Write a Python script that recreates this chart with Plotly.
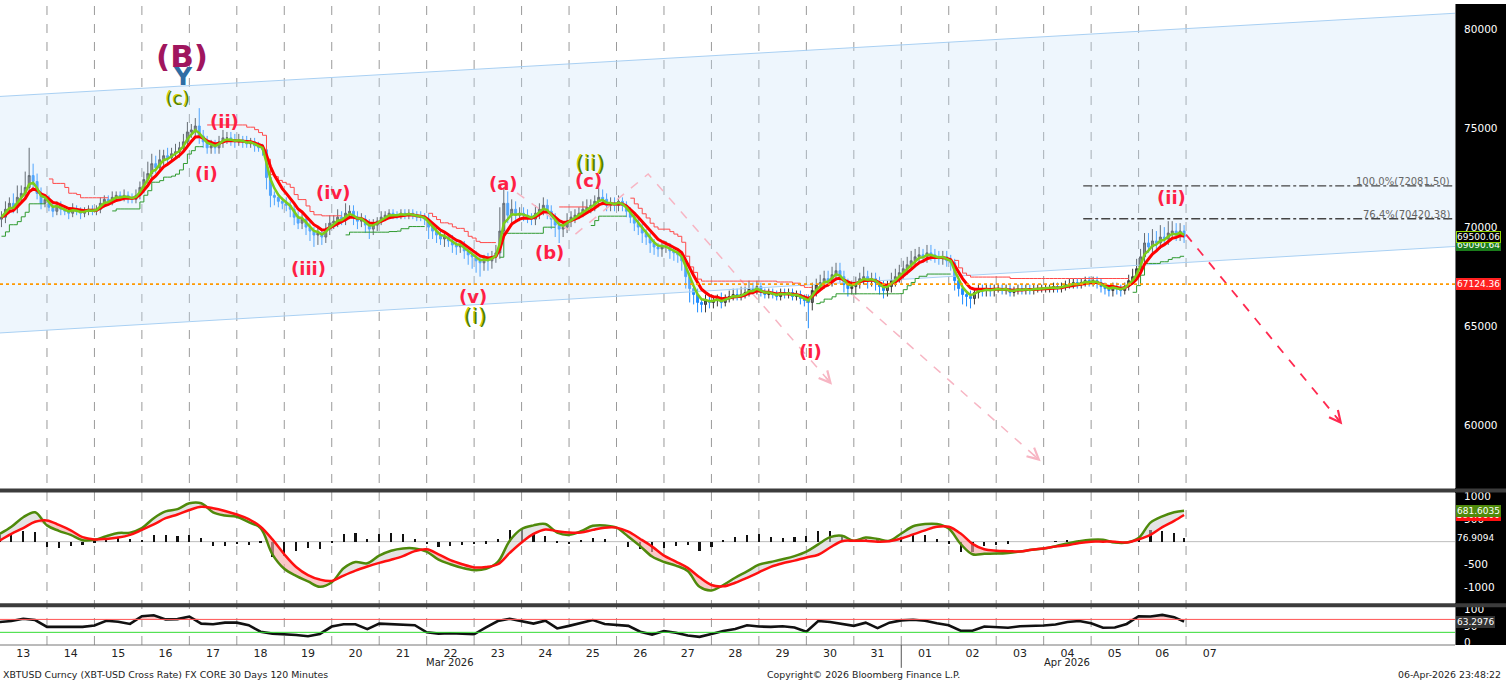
import numpy as np
import pandas as pd
import plotly.graph_objects as go

# ---------------- price data: 2-hour bars, values in thousands of USD ----------------
bar_start = "2026-03-13 01:00"
first_open_k = 70.4
close_k = [
    70.5, 70.9, 71.2, 71.0, 71.5, 71.7, 72.0, 72.6, 72.3, 71.7, 71.2, 71.4,   # Mar 13
    71.0, 70.8, 71.1, 70.9, 70.8, 70.7, 70.9, 70.8, 70.7, 70.8, 70.9, 70.8,   # Mar 14
    70.9, 71.2, 71.4, 71.3, 71.5, 71.6, 71.5, 71.6, 71.5, 71.4, 71.6, 72.0,   # Mar 15
    72.4, 72.7, 73.2, 73.0, 73.4, 73.6, 73.5, 73.7, 73.8, 74.0, 74.3, 74.8,   # Mar 16
    74.9, 75.1, 74.6, 74.3, 74.0, 74.1, 74.0, 74.3, 74.5, 74.5, 74.4, 74.3,   # Mar 17
    74.4, 74.3, 74.2, 74.3, 74.1, 74.0, 73.9, 72.5, 71.6, 71.5, 71.3, 71.2,   # Mar 18
    71.1, 70.9, 70.5, 70.2, 70.4, 70.0, 69.8, 69.6, 69.7, 69.5, 69.9, 70.2,   # Mar 19
    70.3, 70.5, 70.4, 70.7, 70.8, 70.5, 70.3, 70.4, 70.1, 69.9, 70.1, 70.3,   # Mar 20
    70.5, 70.6, 70.7, 70.6, 70.6, 70.7, 70.6, 70.7, 70.6, 70.5, 70.5, 70.4,   # Mar 21
    70.0, 69.8, 69.6, 69.4, 69.5, 69.3, 69.1, 69.0, 69.1, 68.8, 68.6, 68.5,   # Mar 22
    68.3, 68.2, 68.4, 68.3, 68.5, 68.7, 69.8, 71.2, 70.6, 70.9, 70.6, 70.7,   # Mar 23
    70.6, 70.5, 70.4, 70.7, 70.9, 71.1, 70.8, 70.4, 70.1, 69.9, 70.0, 70.3,   # Mar 24
    70.5, 70.6, 70.7, 70.9, 71.0, 71.1, 71.3, 71.5, 71.4, 71.1, 71.2, 71.1,   # Mar 25
    71.3, 71.1, 70.8, 70.5, 70.2, 70.0, 69.7, 69.5, 69.2, 69.0, 68.9, 69.0,   # Mar 26
    69.0, 68.8, 68.7, 68.6, 68.3, 67.5, 66.9, 66.6, 66.2, 66.1, 66.3, 66.2,   # Mar 27
    66.3, 66.4, 66.2, 66.4, 66.5, 66.6, 66.5, 66.6, 66.7, 66.9, 66.8, 67.0,   # Mar 28
    66.7, 66.6, 66.7, 66.6, 66.5, 66.7, 66.6, 66.7, 66.5, 66.6, 66.4, 66.3,   # Mar 29
    66.2, 66.8, 67.1, 67.2, 67.4, 67.3, 67.6, 67.8, 67.5, 67.1, 66.9, 67.0,   # Mar 30
    67.2, 67.4, 67.5, 67.3, 67.4, 67.2, 67.0, 66.8, 67.0, 67.3, 67.5, 67.7,   # Mar 31
    67.9, 68.1, 68.3, 68.5, 68.6, 68.5, 68.7, 68.6, 68.5, 68.4, 68.5, 68.3,   # Apr 01
    68.2, 67.3, 66.9, 66.6, 66.5, 66.4, 66.7, 66.9, 66.8, 66.9, 66.8, 66.9,   # Apr 02
    66.9, 66.8, 66.9, 66.7, 66.8, 66.9, 66.8, 66.9, 66.8, 66.9, 66.9, 66.9,   # Apr 03
    66.9, 66.9, 67.0, 66.9, 67.0, 67.1, 67.1, 67.2, 67.1, 67.2, 67.3, 67.2,   # Apr 04
    67.3, 67.2, 67.0, 66.9, 66.8, 67.0, 66.9, 66.8, 67.0, 67.3, 67.5, 67.9,   # Apr 05
    68.5, 69.2, 69.0, 69.3, 69.2, 69.5, 69.4, 69.7, 69.8, 69.6, 69.8, 69.5,   # Apr 06
]
# wick lengths above / below the candle body, in hundreds of USD
wick_up = [
    3, 4, 3, 5, 6, 4, 8, 14, 6, 4, 3, 2,
    2, 3, 2, 2, 2, 2, 3, 2, 2, 2, 2, 2,
    2, 3, 2, 2, 3, 2, 2, 3, 2, 2, 3, 3,
    4, 6, 5, 4, 5, 3, 4, 3, 4, 3, 4, 5,
    3, 4, 9, 3, 3, 3, 3, 3, 4, 3, 3, 3,
    3, 2, 3, 2, 2, 2, 2, 2, 2, 2, 2, 2,
    3, 2, 2, 3, 3, 2, 3, 2, 3, 2, 3, 4,
    3, 4, 3, 5, 3, 3, 3, 3, 2, 3, 3, 2,
    3, 2, 2, 2, 2, 2, 2, 2, 2, 2, 3, 2,
    3, 2, 2, 3, 2, 2, 3, 2, 2, 2, 2, 2,
    3, 3, 2, 3, 3, 4, 12, 8, 6, 5, 4, 3,
    3, 3, 2, 4, 3, 4, 3, 3, 3, 3, 3, 4,
    3, 3, 3, 4, 4, 3, 3, 5, 4, 3, 3, 3,
    3, 2, 2, 2, 2, 2, 2, 2, 2, 2, 2, 2,
    3, 2, 2, 2, 2, 2, 2, 2, 3, 2, 3, 2,
    2, 2, 3, 2, 3, 3, 3, 4, 3, 4, 3, 3,
    2, 2, 2, 2, 2, 2, 2, 2, 2, 2, 2, 2,
    3, 4, 3, 4, 4, 4, 4, 4, 4, 3, 3, 3,
    3, 3, 5, 3, 3, 3, 3, 3, 3, 4, 4, 4,
    4, 4, 5, 4, 4, 3, 4, 4, 3, 3, 3, 3,
    3, 2, 2, 2, 2, 3, 2, 2, 2, 2, 2, 2,
    2, 2, 2, 2, 2, 2, 2, 2, 2, 2, 2, 2,
    2, 2, 2, 2, 2, 2, 3, 2, 2, 2, 2, 2,
    2, 2, 2, 2, 2, 2, 2, 2, 2, 3, 4, 5,
    4, 5, 5, 6, 5, 6, 5, 6, 5, 4, 4, 3,
]
wick_dn = [
    4, 3, 2, 3, 3, 2, 3, 2, 4, 3, 3, 2,
    2, 3, 2, 3, 2, 3, 2, 2, 3, 2, 2, 2,
    2, 2, 2, 2, 2, 2, 2, 2, 3, 2, 2, 2,
    3, 2, 3, 3, 2, 3, 3, 2, 2, 3, 2, 3,
    3, 3, 4, 3, 3, 3, 3, 3, 3, 3, 3, 3,
    2, 3, 2, 2, 3, 2, 3, 6, 6, 4, 3, 3,
    3, 4, 4, 3, 3, 4, 5, 6, 5, 4, 3, 3,
    3, 3, 3, 3, 3, 4, 4, 3, 4, 5, 3, 3,
    2, 2, 2, 2, 2, 2, 2, 2, 2, 2, 2, 3,
    6, 4, 4, 3, 4, 3, 4, 4, 3, 4, 5, 6,
    6, 7, 4, 5, 4, 3, 3, 3, 4, 4, 3, 3,
    3, 3, 3, 3, 3, 3, 4, 5, 6, 7, 4, 3,
    3, 3, 2, 2, 2, 3, 3, 3, 3, 3, 3, 3,
    3, 3, 3, 3, 4, 4, 5, 4, 5, 4, 4, 4,
    3, 4, 4, 4, 5, 6, 7, 5, 5, 4, 4, 3,
    3, 3, 3, 2, 2, 2, 2, 2, 2, 2, 2, 2,
    2, 2, 2, 2, 2, 2, 2, 2, 2, 2, 3, 3,
    13, 4, 3, 3, 3, 3, 3, 3, 3, 4, 4, 3,
    4, 3, 3, 4, 3, 4, 4, 4, 3, 3, 3, 3,
    3, 3, 3, 3, 3, 3, 3, 3, 3, 3, 3, 3,
    4, 5, 4, 5, 5, 5, 3, 3, 3, 3, 3, 3,
    2, 2, 2, 2, 2, 2, 2, 2, 2, 2, 2, 2,
    2, 2, 2, 2, 2, 2, 2, 2, 2, 2, 2, 2,
    2, 3, 3, 3, 3, 3, 3, 3, 2, 2, 2, 2,
    3, 3, 3, 3, 3, 3, 3, 3, 3, 3, 3, 3,
]

# ---------------- MACD / RSI panels (read every 6 hours) ----------------
ind_start = "2026-03-13 00:00"
ind_last_time = "2026-04-06 23:00"
macd_line = [
    170, 330, 540, 650, 360, 240, 150, 30, 40, 120,
    190, 200, 300, 520, 670, 720, 850, 850, 650, 580,
    550, 430, 300, -280, -600, -760, -880, -1000, -900, -590,
    -450, -480, -310, -200, -150, -150, -220, -400, -500, -580,
    -630, -600, -450, 20, 280, 360, 390, 200, 150, 230,
    350, 360, 310, 110, -100, -330, -450, -530, -650, -1000,
    -1080, -960, -800, -660, -510, -450, -390, -320, -220, -60,
    100, 130, 20, 90, 60, 20, 180, 340, 390, 390,
    290, -50, -280, -270, -265, -250, -220, -180, -150, -100,
    -40, 10, 40, 40, -20, -20, 80, 420, 560, 650,
    681.6035,
]
macd_signal = [
    20, 170, 300, 440, 470, 370, 250, 100, 50, 60,
    90, 150, 260, 380, 520, 600, 700, 770, 740, 680,
    600, 500, 330, 50, -280, -560, -740, -840, -870, -750,
    -640, -550, -470, -400, -320, -210, -170, -280, -410, -500,
    -570, -560, -500, -250, -20, 170, 270, 230, 200, 200,
    260, 310, 310, 220, 60, -110, -310, -440, -580, -790,
    -960, -990, -910, -800, -680, -560, -480, -420, -350, -290,
    -130, 10, 20, 20, 0, 10, 70, 160, 250, 330,
    330, 180, -50, -170, -200, -210, -220, -180, -150, -110,
    -80, -30, 0, 0, 0, -20, 50, 150, 320, 460,
    590,
]
rsi_vals = [
    62, 65, 72, 68, 47, 46, 47, 47, 51, 66,
    63, 56, 80, 83, 70, 71, 79, 57, 55, 60,
    60, 52, 32, 26, 25, 22, 18, 25, 48, 55,
    55, 40, 57, 56, 55, 52, 30, 26, 27, 26,
    24, 45, 65, 72, 64, 57, 66, 42, 50, 58,
    68, 56, 52, 50, 32, 23, 34, 29, 20, 16,
    25, 34, 40, 52, 48, 47, 49, 45, 32, 65,
    62, 55, 50, 60, 43, 60, 67, 69, 66, 58,
    52, 35, 35, 48, 45, 44, 49, 49, 51, 54,
    62, 65, 58, 44, 45, 56, 80, 79, 84, 77,
    63.2976,
]

# ---------------- axis labels / reference values ----------------
day_labels = ['13', '14', '15', '16', '17', '18', '19', '20', '21', '22', '23', '24', '25',
              '26', '27', '28', '29', '30', '31', '01', '02', '03', '04', '05', '06', '07']
price_ticks = [60000, 65000, 70000, 75000, 80000]
macd_ticks = [-1000, -500, 500, 1000]
rsi_ticks = [0, 50, 100]
ref_level = 67124.36
fib_levels = [72081.50, 70420.38]
fib_texts = ["100.0%(72081.50)", "76.4%(70420.38)"]
fib_start = "2026-04-04 20:00"
last_close_tag = 69500.06
trend_tag = 69090.64
hist_tag = 76.9094

# channel (drawn trend channel)
channel_t = ["2026-03-13 00:15", "2026-04-12 16:00"]
channel_upper = [76590, 80787]
channel_lower = [64662, 69023]

# projection paths
pathA_t = ["2026-03-23 21:40", "2026-03-25 03:00", "2026-03-26 16:00", "2026-03-30 13:00"]
pathA_p = [71730, 69630, 72680, 62055]
pathB_t = ["2026-03-30 23:30", "2026-04-03 22:30"]
pathB_p = [66565, 58195]
pathC_t = ["2026-04-07 00:00", "2026-04-10 07:00"]
pathC_p = [69620, 60050]

# Elliott wave labels
RED, OLIVE = "#ff1f45", "#4f8200"
wave_text = ["(B)", "Y", "(c)", "(ii)", "(i)", "(iv)", "(iii)", "(v)", "(i)", "(a)", "(b)", "(c)", "(ii)", "(i)", "(ii)"]
wave_time = ["2026-03-16 20:20", "2026-03-16 20:50", "2026-03-16 18:20", "2026-03-17 18:00", "2026-03-17 08:25",
             "2026-03-20 00:36", "2026-03-19 12:00", "2026-03-22 23:25", "2026-03-23 00:30", "2026-03-23 15:00",
             "2026-03-24 13:55", "2026-03-25 10:00", "2026-03-25 10:40", "2026-03-30 02:00", "2026-04-06 16:25"]
wave_price = [78646, 77593, 76490, 75336, 72728, 71725, 67914, 66510, 65507, 72177, 68716, 72327, 73230, 63701, 71475]
wave_color = ["#a0165e", "#2e6da4", OLIVE, RED, RED, RED, RED, RED, OLIVE, RED, RED, RED, OLIVE, RED, RED]
wave_size = [31, 25, 18, 18, 18, 18, 18, 18, 22, 18, 18, 18, 22, 18, 18]
wave_bold = [True, True, False, True, True, True, True, True, False, True, True, True, False, True, True]

# ---------------- derived series ----------------
close = np.array(close_k) * 1000.0
open_ = np.r_[first_open_k * 1000.0, close[:-1]]
high = np.maximum(open_, close) + np.array(wick_up) * 100.0
low = np.minimum(open_, close) - np.array(wick_dn) * 100.0
times = pd.date_range(bar_start, periods=len(close), freq="2h")

s = pd.Series(close)
ma_fast = s.ewm(span=3, adjust=False).mean()
ma_slow = s.ewm(span=6, adjust=False).mean()

# trend-following step lines (supertrend style)
prev_c = np.r_[close[0], close[:-1]]
tr = np.maximum.reduce([high - low, np.abs(high - prev_c), np.abs(low - prev_c)])
atr = pd.Series(tr).rolling(10, min_periods=1).mean().values
mult = 1.2
bu = close + mult * atr
bl = close - mult * atr
fu, fl = bu.copy(), bl.copy()
trend = np.ones(len(close))
for i in range(1, len(close)):
    fu[i] = bu[i] if (bu[i] < fu[i - 1] or close[i - 1] > fu[i - 1]) else fu[i - 1]
    fl[i] = bl[i] if (bl[i] > fl[i - 1] or close[i - 1] < fl[i - 1]) else fl[i - 1]
    if close[i] > fu[i - 1]:
        trend[i] = 1
    elif close[i] < fl[i - 1]:
        trend[i] = -1
    else:
        trend[i] = trend[i - 1]
red_step = np.where(trend < 0, fu, np.nan)
green_step = np.where(trend > 0, fl, np.nan)

ind_t = list(pd.date_range(ind_start, periods=len(macd_line) - 1, freq="6h")) + [pd.Timestamp(ind_last_time)]
macd = np.array(macd_line, dtype=float)
sig = np.array(macd_signal, dtype=float)
hist = macd - sig
rsi = np.array(rsi_vals, dtype=float)

# ---------------- geometry ----------------
W, H = 1506, 681
ML, MR, MT, MB = 0, 51, 0, 36
PW, PH = W - ML - MR, H - MT - MB
x_range = [pd.Timestamp(channel_t[0]), pd.Timestamp(channel_t[1])]
price_range = [56842, 81253]
macd_range = [-1364, 1078]
rsi_range = [-9.2, 107.7]
dom_price = [(645 - 487) / 645, 1.0]
dom_macd = [(645 - 603) / 645, (645 - 492) / 645]
dom_rsi = [0.0, (645 - 607) / 645]

def to_px(t, p):
    t = pd.Timestamp(t)
    fx = (t - x_range[0]) / (x_range[1] - x_range[0])
    fy = (price_range[1] - p) / (price_range[1] - price_range[0])
    return fx * PW, fy * 487

fig = go.Figure()

# channel
fig.add_trace(go.Scatter(x=channel_t, y=channel_lower, mode="lines",
                         line=dict(color="#a9d0f3", width=1), hoverinfo="skip"))
fig.add_trace(go.Scatter(x=channel_t, y=channel_upper, mode="lines", fill="tonexty",
                         fillcolor="rgba(200,225,250,0.30)",
                         line=dict(color="#a9d0f3", width=1), hoverinfo="skip"))

# fib lines
for lv in fib_levels:
    fig.add_trace(go.Scatter(x=[fib_start, channel_t[1]], y=[lv, lv], mode="lines",
                             line=dict(color="#444444", width=1.3, dash="dashdot"), hoverinfo="skip"))

# projection paths
fig.add_trace(go.Scatter(x=pathA_t, y=pathA_p, mode="lines",
                         line=dict(color="#f7b5c3", width=1.5, dash="dash"), hoverinfo="skip"))
fig.add_trace(go.Scatter(x=pathB_t, y=pathB_p, mode="lines",
                         line=dict(color="#f7b5c3", width=1.5, dash="dash"), hoverinfo="skip"))
fig.add_trace(go.Scatter(x=pathC_t, y=pathC_p, mode="lines",
                         line=dict(color="#ff2a50", width=1.8, dash="dash"), hoverinfo="skip"))

# step lines
fig.add_trace(go.Scatter(x=times, y=red_step, mode="lines", line=dict(color="#ff4a4a", width=1, shape="hv"),
                         connectgaps=False, hoverinfo="skip"))
fig.add_trace(go.Scatter(x=times, y=green_step, mode="lines", line=dict(color="#2f9a2f", width=1, shape="hv"),
                         connectgaps=False, hoverinfo="skip"))

# candles
fig.add_trace(go.Candlestick(x=times, open=open_, high=high, low=low, close=close,
                             increasing=dict(line=dict(color="#3a3a3a", width=1), fillcolor="#6e6e6e"),
                             decreasing=dict(line=dict(color="#1e8cff", width=1), fillcolor="#1e8cff"),
                             whiskerwidth=0, hoverinfo="skip"))

# moving averages
fig.add_trace(go.Scatter(x=times, y=ma_slow, mode="lines", line=dict(color="#ff0000", width=3), hoverinfo="skip"))
fig.add_trace(go.Scatter(x=times, y=ma_fast, mode="lines", line=dict(color="#7ccd1a", width=2.5), hoverinfo="skip"))

# ---- MACD panel ----
up_env = np.maximum(macd, sig)
dn_env = np.minimum(macd, sig)
fig.add_trace(go.Bar(x=ind_t, y=hist, marker=dict(color="#111111", line=dict(width=0)),
                     width=1.1 * 3600 * 1000, xaxis="x2", yaxis="y2", hoverinfo="skip"))
fig.add_trace(go.Scatter(x=ind_t, y=sig, mode="lines", line=dict(width=0, shape="spline"),
                         xaxis="x2", yaxis="y2", hoverinfo="skip"))
fig.add_trace(go.Scatter(x=ind_t, y=up_env, mode="lines", line=dict(width=0, shape="spline"), fill="tonexty",
                         fillcolor="rgba(205,205,205,0.55)", xaxis="x2", yaxis="y2", hoverinfo="skip"))
fig.add_trace(go.Scatter(x=ind_t, y=sig, mode="lines", line=dict(width=0, shape="spline"),
                         xaxis="x2", yaxis="y2", hoverinfo="skip"))
fig.add_trace(go.Scatter(x=ind_t, y=dn_env, mode="lines", line=dict(width=0, shape="spline"), fill="tonexty",
                         fillcolor="rgba(248,170,170,0.65)", xaxis="x2", yaxis="y2", hoverinfo="skip"))
fig.add_trace(go.Scatter(x=ind_t, y=macd, mode="lines", line=dict(color="#4f8a0b", width=2.5, shape="spline"),
                         xaxis="x2", yaxis="y2", hoverinfo="skip"))
fig.add_trace(go.Scatter(x=ind_t, y=sig, mode="lines", line=dict(color="#ff1010", width=2.5, shape="spline"),
                         xaxis="x2", yaxis="y2", hoverinfo="skip"))

# ---- RSI panel ----
fig.add_trace(go.Scatter(x=ind_t, y=np.full(len(rsi), 70.0), mode="lines", line=dict(width=0),
                         xaxis="x3", yaxis="y3", hoverinfo="skip"))
fig.add_trace(go.Scatter(x=ind_t, y=np.maximum(rsi, 70.0), mode="lines", line=dict(width=0), fill="tonexty",
                         fillcolor="rgba(250,190,190,0.8)", xaxis="x3", yaxis="y3", hoverinfo="skip"))
fig.add_trace(go.Scatter(x=ind_t, y=rsi, mode="lines", line=dict(color="#111111", width=2.6),
                         xaxis="x3", yaxis="y3", hoverinfo="skip"))

# ---------------- shapes ----------------
shapes = []
shapes.append(dict(type="rect", xref="paper", yref="paper", x0=1, x1=1 + MR / PW, y0=0, y1=1,
                   fillcolor="#000000", line=dict(width=0), layer="below"))
for d in pd.date_range("2026-03-14", "2026-04-07", freq="D"):
    shapes.append(dict(type="line", xref="x", yref="paper", x0=d, x1=d, y0=0, y1=1,
                       line=dict(color="#9a9a9a", width=1, dash="dash"), layer="below"))
shapes.append(dict(type="line", xref="paper", yref="y", x0=0, x1=1, y0=ref_level, y1=ref_level,
                   line=dict(color="#ff9900", width=1.6, dash="dot")))
shapes.append(dict(type="line", xref="paper", yref="y2", x0=0, x1=1, y0=0, y1=0,
                   line=dict(color="#bdbdbd", width=1), layer="below"))
shapes.append(dict(type="line", xref="paper", yref="y3", x0=0, x1=1, y0=70, y1=70,
                   line=dict(color="#ff5555", width=1)))
shapes.append(dict(type="line", xref="paper", yref="y3", x0=0, x1=1, y0=30, y1=30,
                   line=dict(color="#33dd33", width=1)))
for ypx, w in [(489.5, 4), (605, 4)]:
    yy = (645 - ypx) / 645
    shapes.append(dict(type="line", xref="paper", yref="paper", x0=0, x1=1 + MR / PW, y0=yy, y1=yy,
                       line=dict(color="#3c3c3c", width=w)))
shapes.append(dict(type="line", xref="paper", yref="paper", x0=0, x1=1, y0=0, y1=0,
                   line=dict(color="#777777", width=1)))
shapes.append(dict(type="line", xref="x", yref="paper", x0=pd.Timestamp("2026-04-01"), x1=pd.Timestamp("2026-04-01"),
                   y0=-23 / 645, y1=0, line=dict(color="#555555", width=1)))

# ---------------- annotations ----------------
ann = []
for t, p, txt, c, sz, b in zip(wave_time, wave_price, wave_text, wave_color, wave_size, wave_bold):
    if c == OLIVE:
        ann.append(dict(x=t, y=p, xref="x", yref="y", text=txt, showarrow=False, xshift=-0.8, yshift=0.6,
                        font=dict(family="DejaVu Sans", size=sz, color="#d8d000"),
                        xanchor="center", yanchor="middle"))
    ann.append(dict(x=t, y=p, xref="x", yref="y", text=txt, showarrow=False,
                    font=dict(family="DejaVu Sans", size=sz, color=c, weight="bold" if b else "normal"),
                    xanchor="center", yanchor="middle"))
for lv, txt in zip(fib_levels, fib_texts):
    ann.append(dict(x=1, y=lv, xref="paper", yref="y", text=txt, showarrow=False, xanchor="right",
                    yanchor="bottom", xshift=-3, yshift=-3,
                    font=dict(family="DejaVu Sans", size=10, color="#666666")))

for pt, pp, col in [(pathA_t, pathA_p, "#f7b5c3"), (pathB_t, pathB_p, "#f7b5c3"), (pathC_t, pathC_p, "#ff2a50")]:
    x1, y1 = to_px(pt[-1], pp[-1])
    x0, y0 = to_px(pt[-2], pp[-2])
    L = np.hypot(x1 - x0, y1 - y0)
    ux, uy = (x1 - x0) / L, (y1 - y0) / L
    ann.append(dict(x=pt[-1], y=pp[-1], xref="x", yref="y", showarrow=True, text="",
                    ax=-ux * 12, ay=-uy * 12, arrowhead=5, arrowsize=1.6, arrowwidth=1.4, arrowcolor=col))

def tag(val, txt, yref, bg, border=None, fc="white"):
    return dict(x=1, y=val, xref="paper", yref=yref, text=txt, showarrow=False, xanchor="left",
                yanchor="middle", xshift=1, bgcolor=bg, bordercolor=border or bg, borderwidth=1, borderpad=0,
                font=dict(family="DejaVu Sans", size=9, color=fc))

ann.append(tag(trend_tag, f"{trend_tag:.2f}", "y", "#1b7d1b"))
ann.append(tag(last_close_tag, f"{last_close_tag:.2f}", "y", "#000000", border="#8ed400"))
ann.append(tag(ref_level, f"{ref_level:.2f}", "y", "#ff2020"))
ann.append(tag(macd_signal[-1], f"{macd_signal[-1]:.4f}", "y2", "#ff1010"))
ann.append(tag(macd_line[-1], f"{macd_line[-1]:.4f}", "y2", "#4f8a0b"))
ann.append(tag(hist_tag, f"{hist_tag:.4f}", "y2", "#000000"))
ann.append(tag(rsi_vals[-1], f"{rsi_vals[-1]:.4f}", "y3", "#333333"))

ann.append(dict(x="2026-03-22 12:00", y=-18 / 645, xref="x", yref="paper", text="Mar 2026", showarrow=False,
                font=dict(family="DejaVu Sans", size=10, color="#222"), yanchor="middle"))
ann.append(dict(x="2026-04-04 12:00", y=-18 / 645, xref="x", yref="paper", text="Apr 2026", showarrow=False,
                font=dict(family="DejaVu Sans", size=10, color="#222"), yanchor="middle"))
foot_y = -30 / 645
ann.append(dict(x=0.001, y=foot_y, xref="paper", yref="paper", xanchor="left", yanchor="middle", showarrow=False,
                text="XBTUSD Curncy (XBT-USD Cross Rate) FX CORE 30 Days 120 Minutes",
                font=dict(family="DejaVu Sans", size=9.4, color="#222")))
ann.append(dict(x=863 / PW, y=foot_y, xref="paper", yref="paper", xanchor="center", yanchor="middle",
                showarrow=False, text="Copyright© 2026 Bloomberg Finance L.P.",
                font=dict(family="DejaVu Sans", size=9.4, color="#222")))
ann.append(dict(x=(W - 3) / PW, y=foot_y, xref="paper", yref="paper", xanchor="right", yanchor="middle",
                showarrow=False, text="06-Apr-2026 23:48:22",
                font=dict(family="DejaVu Sans", size=9.4, color="#222")))

# ---------------- layout ----------------
ax_common = dict(range=x_range, showgrid=False, zeroline=False, showline=False, fixedrange=True)
yfont = dict(family="DejaVu Sans", size=10.5, color="white")
fig.update_layout(
    width=W, height=H, margin=dict(l=ML, r=MR, t=MT, b=MB),
    paper_bgcolor="white", plot_bgcolor="white", showlegend=False, bargap=0,
    shapes=shapes, annotations=ann,
    xaxis=dict(**ax_common, domain=[0, 1], anchor="y", showticklabels=False, rangeslider=dict(visible=False)),
    xaxis2=dict(**ax_common, domain=[0, 1], anchor="y2", matches="x", showticklabels=False),
    xaxis3=dict(**ax_common, domain=[0, 1], anchor="y3", matches="x",
                tickvals=list(pd.date_range("2026-03-13 12:00", periods=len(day_labels), freq="D")),
                ticktext=day_labels, ticks="", tickfont=dict(family="DejaVu Sans", size=11, color="#222")),
    yaxis=dict(domain=dom_price, range=price_range, side="right", anchor="x", tickvals=price_ticks,
               ticktext=[str(v) for v in price_ticks], ticks="", tickfont=yfont, showgrid=False,
               zeroline=False, showline=True, linecolor="#777", ticklabelstandoff=6),
    yaxis2=dict(domain=dom_macd, range=macd_range, side="right", anchor="x2", tickvals=macd_ticks,
                ticktext=[str(v) for v in macd_ticks], ticks="", tickfont=yfont, showgrid=False,
                zeroline=False, showline=True, linecolor="#777", ticklabelstandoff=6),
    yaxis3=dict(domain=dom_rsi, range=rsi_range, side="right", anchor="x3", tickvals=rsi_ticks,
                ticktext=[str(v) for v in rsi_ticks], ticks="", tickfont=yfont, showgrid=False,
                zeroline=False, showline=True, linecolor="#777", ticklabelstandoff=6),
)

fig.write_html("out.html", config={"displayModeBar": False}, post_script="document.body.style.margin='0';")
